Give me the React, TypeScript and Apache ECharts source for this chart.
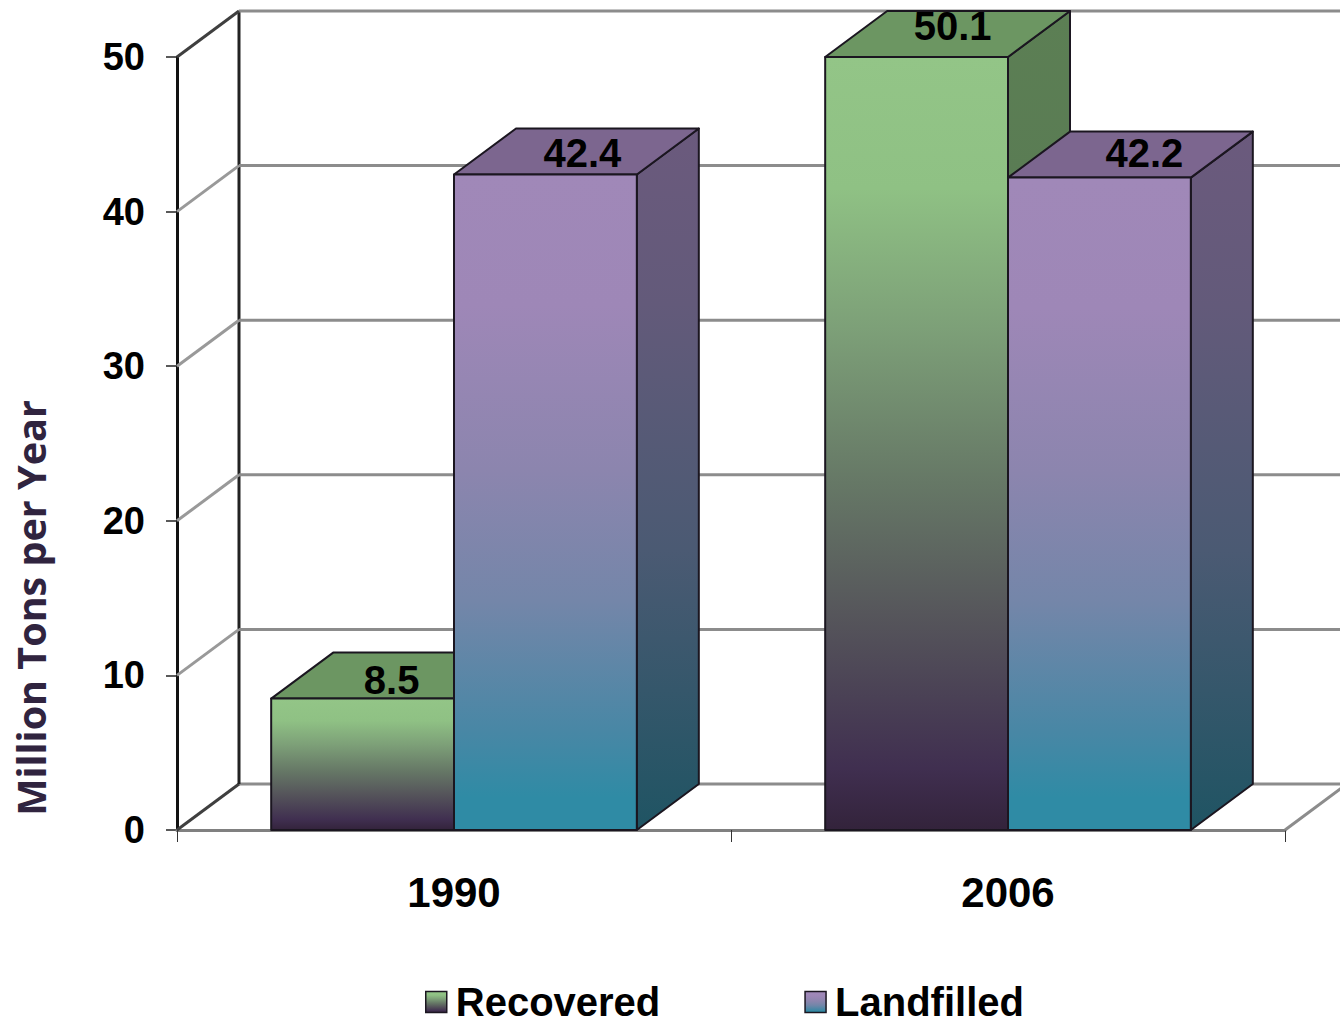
import React, { useEffect, useRef } from "react";
import * as echarts from "echarts";

const categories = ["1990", "2006"];
const recovered = [8.5, 50.1];
const landfilled = [42.4, 42.2];
const yTicks = [0, 10, 20, 30, 40, 50];
const yMax = 50;

const W = 1340;
const H = 1019;
const DX = 62;
const DY = -46;
const FONT = '"Liberation Sans", Arial, sans-serif';

// label nudges relative to the centre of the bar's front top edge
const recoveredShift = [[29, -19], [36, -31]];
const landfilledShift = [[37, -21], [45, -25]];

const grad = (stops: [number, string][]) =>
  new echarts.graphic.LinearGradient(0, 0, 0, 1, stops.map(([offset, color]) => ({ offset, color })));

const greenFront: [number, string][] = [
  [0, "#93c587"], [0.17, "#8fc184"], [0.35, "#7da078"], [0.55, "#667866"],
  [0.72, "#56565b"], [0.92, "#402f50"], [1, "#33233b"],
];
const purpleFront: [number, string][] = [
  [0, "#a088b8"], [0.2, "#9e87b7"], [0.45, "#8c85ae"], [0.65, "#7486a9"],
  [0.85, "#4887a5"], [0.95, "#2f8ba5"], [1, "#2f8ba5"],
];
const greenSide: [number, string][] = [
  [0, "#5c7f54"], [0.2, "#5a7c54"], [0.6, "#3f4a42"], [1, "#20172a"],
];
const purpleSide: [number, string][] = [
  [0, "#6b5a7d"], [0.25, "#635a7a"], [0.6, "#4b5a73"], [1, "#1f5463"],
];

function makeBarSeries(
  name: string,
  values: number[],
  side: number,
  front: [number, string][],
  sideStops: [number, string][],
  topColor: string,
  shift: number[][]
) {
  return {
    type: "custom",
    name,
    data: values.map((v, i) => [i, v]),
    encode: { x: 0, y: 1 },
    itemStyle: { color: grad(front) },
    renderItem: (_p: any, api: any) => {
      const cat = api.value(0);
      const val = api.value(1);
      const base = api.coord([cat, 0]);
      const top = api.coord([cat, Math.min(val, yMax)]);
      const bw = api.size([1, 0])[0] * 0.33;
      const x0 = base[0] + (side < 0 ? -bw : 0);
      const x1 = x0 + bw;
      const yt = top[1];
      const yb = base[1];
      const line = { stroke: "#1b1620", lineWidth: 2, lineJoin: "round" };
      const [sx, sy] = shift[cat];
      return {
        type: "group",
        children: [
          {
            type: "polygon",
            shape: { points: [[x1, yt], [x1 + DX, yt + DY], [x1 + DX, yb + DY], [x1, yb]] },
            style: { fill: grad(sideStops), ...line },
          },
          {
            type: "polygon",
            shape: { points: [[x0, yt], [x0 + DX, yt + DY], [x1 + DX, yt + DY], [x1, yt]] },
            style: { fill: topColor, ...line },
          },
          {
            type: "rect",
            shape: { x: x0, y: yt, width: bw, height: yb - yt },
            style: { fill: grad(front), ...line },
          },
          {
            type: "text",
            style: {
              text: val.toFixed(1),
              x: (x0 + x1) / 2 + sx,
              y: yt + sy,
              align: "center",
              verticalAlign: "middle",
              fill: "#000",
              font: `bold 40px ${FONT}`,
            },
          },
        ],
      };
    },
  };
}

const wallSeries = {
  type: "custom",
  name: "walls",
  silent: true,
  data: yTicks.map((t) => [0, t]),
  encode: { x: 0, y: 1 },
  renderItem: (p: any, api: any) => {
    const t = api.value(1);
    const y = api.coord([0, t])[1];
    const { x, width, y: top, height } = p.coordSys;
    const gray = { stroke: "#8c8c8c", lineWidth: 3 };
    const dark = { stroke: "#3f3f3f", lineWidth: 3 };
    const children: any[] = [
      { type: "line", shape: { x1: x + DX, y1: y + DY, x2: x + width + DX, y2: y + DY }, style: gray },
      { type: "line", shape: { x1: x, y1: y, x2: x + DX, y2: y + DY }, style: t === 0 || t === yMax ? dark : { stroke: "#999999", lineWidth: 3 } },
    ];
    if (t === 0) {
      children.push(
        { type: "line", shape: { x1: x + width, y1: y, x2: x + width + DX, y2: y + DY }, style: gray },
        { type: "line", shape: { x1: x + DX, y1: top + DY, x2: x + DX, y2: top + height + DY }, style: { stroke: "#222", lineWidth: 3 } }
      );
    }
    return { type: "group", children };
  },
};

export default function App() {
  const ref = useRef<HTMLDivElement>(null);
  useEffect(() => {
    document.body.style.margin = "0";
    document.body.style.overflow = "hidden";
    const chart = echarts.init(ref.current!, undefined, { renderer: "svg" });
    chart.setOption({
      animation: false,
      backgroundColor: "#fff",
      grid: { left: 177, top: 57, width: 1108, height: 773 },
      xAxis: {
        type: "category",
        data: categories,
        axisTick: { show: true, length: 12, lineStyle: { color: "#333", width: 1 } },
        axisLine: { show: true, lineStyle: { color: "#808080", width: 3 } },
        axisLabel: { fontFamily: FONT, fontWeight: "bold", fontSize: 42, color: "#000", margin: 41 },
        z: 1,
      },
      yAxis: {
        type: "value",
        min: 0,
        max: yMax,
        interval: 10,
        splitLine: { show: false },
        axisLine: { show: true, lineStyle: { color: "#111", width: 3 } },
        axisTick: { show: true, length: 11, lineStyle: { color: "#222", width: 1.5 } },
        axisLabel: { fontFamily: FONT, fontWeight: "bold", fontSize: 38, color: "#000", margin: 32, padding: [2, 0, 0, 0] },
      },
      legend: {
        left: 420,
        top: 977,
        itemWidth: 21,
        itemHeight: 21,
        itemGap: 144,
        icon: "rect",
        textStyle: { fontFamily: FONT, fontWeight: "bold", fontSize: 40, color: "#000", padding: [0, 0, 0, 4] },
        data: [
          { name: "Recovered", itemStyle: { color: grad(greenFront), borderColor: "#1b1620", borderWidth: 1.5 } },
          { name: "Landfilled", itemStyle: { color: grad(purpleFront), borderColor: "#1b1620", borderWidth: 1.5 } },
        ],
      },
      graphic: [
        {
          type: "text",
          x: 31,
          y: 608,
          rotation: Math.PI / 2,
          style: {
            text: "Million Tons per Year",
            align: "center",
            verticalAlign: "middle",
            fill: "#30243f",
            font: 'bold 39.5px "Open Sans", sans-serif',
          },
        },
      ],
      series: [
        wallSeries,
        makeBarSeries("Recovered", recovered, -1, greenFront, greenSide, "#6c9662", recoveredShift),
        makeBarSeries("Landfilled", landfilled, 1, purpleFront, purpleSide, "#7c668f", landfilledShift),
      ],
    });
    return () => chart.dispose();
  }, []);
  return <div ref={ref} style={{ width: W, height: H }} />;
}
